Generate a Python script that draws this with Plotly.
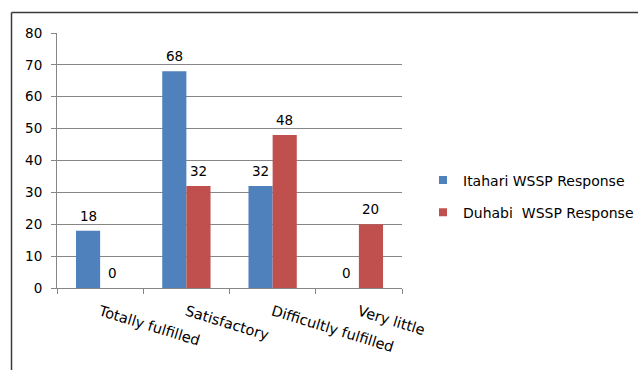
import plotly.graph_objects as go

categories = ["Totally fulfilled", "Satisfactory", "Difficultly fulfilled", "Very little"]
itahari = [18, 68, 32, 0]
duhabi = [0, 32, 48, 20]
series_names = ["Itahari WSSP Response", "Duhabi\u00a0 WSSP Response"]
series_colors = ["#4F81BD", "#C0504D"]
y_ticks = [0, 10, 20, 30, 40, 50, 60, 70, 80]

FONT = "DejaVu Sans, sans-serif"
L, R, T, B = 57, 236, 33, 82
W, H = 638, 370
pw, ph = W - L - R, H - T - B
BARGAP = 0.44
bar_w = pw / len(categories) * (1 - BARGAP) / 2

fig = go.Figure()
for vals, name, col in zip([itahari, duhabi], series_names, series_colors):
    fig.add_trace(go.Bar(x=categories, y=vals, name=name, showlegend=False,
                         marker=dict(color=col, line=dict(width=0))))
# value labels above bars
for k, vals in enumerate([itahari, duhabi]):
    shift = (k - 0.5) * bar_w
    for c, v in zip(categories, vals):
        fig.add_annotation(x=c, y=v, xref="x", yref="y", text=str(v), showarrow=False,
                           xshift=shift, yshift=5, yanchor="bottom",
                           font=dict(size=13.5, color="#000000", family=FONT))
# legend entries with small square markers
for i, (name, col) in enumerate(zip(series_names, series_colors)):
    fig.add_trace(go.Scatter(x=[None], y=[None], mode="markers", name=name,
                             legendgroup=f"g{i}",
                             marker=dict(symbol="square", size=8, color=col)))

bx0 = (11.5 - L) / pw
by0 = 1 + (T - 12.5) / ph
fig.add_shape(type="line", xref="paper", yref="paper", x0=bx0, x1=bx0, y0=by0, y1=-B / ph - 0.05,
              line=dict(color="#3a3a3a", width=1.5))
fig.add_shape(type="line", xref="paper", yref="paper", x0=bx0, x1=(W - L) / pw + 0.05, y0=by0, y1=by0,
              line=dict(color="#3a3a3a", width=1.5))

fig.update_layout(
    width=W, height=H,
    margin=dict(l=L, r=R, t=T, b=B, autoexpand=False),
    paper_bgcolor="white", plot_bgcolor="white",
    barmode="group", bargap=BARGAP, bargroupgap=0,
    font=dict(family=FONT, size=13.5, color="#000000"),
    showlegend=True,
    legend=dict(x=(423 - L) / pw, y=(H - B - 196.5) / ph, xanchor="left", yanchor="middle",
                font=dict(size=14, color="#000000", family=FONT),
                itemwidth=30, tracegroupgap=11, bgcolor="rgba(0,0,0,0)"),
)
fig.update_xaxes(type="category", showline=True, linecolor="#868686", linewidth=1,
                 ticks="outside", tickson="boundaries", ticklen=5, tickcolor="#868686",
                 tickangle=17, ticklabelstandoff=9, automargin=False,
                 tickfont=dict(size=14.5, family=FONT, color="#000000"),
                 showgrid=False)
fig.update_yaxes(range=[0, 80], tickvals=y_ticks, showline=True, linecolor="#868686", linewidth=1,
                 ticks="outside", ticklen=5, tickcolor="#868686", ticklabelstandoff=6,
                 showgrid=True, gridcolor="#868686", gridwidth=1, automargin=False,
                 tickfont=dict(size=13.5, family=FONT, color="#000000"), zeroline=False)

fig.write_html("out.html")
